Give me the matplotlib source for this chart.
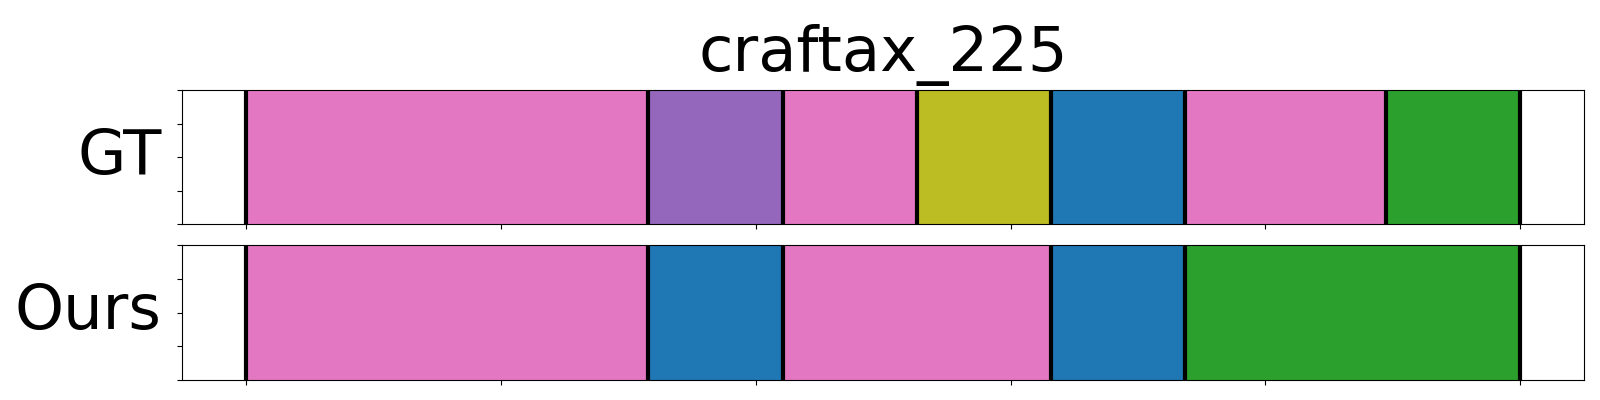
import matplotlib
matplotlib.use("Agg")
import matplotlib.pyplot as plt

n_steps = 19
title = "craftax_225"
row_labels = ["GT", "Ours"]

# segment boundaries (in steps) and colour of each segment
gt_bounds = [0, 6, 8, 10, 12, 14, 17, 19]
gt_colors = ["tab:pink", "tab:purple", "tab:pink", "tab:olive", "tab:blue", "tab:pink", "tab:green"]
ours_bounds = [0, 6, 8, 12, 14, 19]
ours_colors = ["tab:pink", "tab:blue", "tab:pink", "tab:blue", "tab:green"]


def draw_row(ax, bounds, colors, label):
    xs = [b / n_steps for b in bounds]
    for i, c in enumerate(colors):
        ax.axvspan(xs[i], xs[i + 1], ymin=0, ymax=1, color=c, lw=0)
    for x in xs:
        ax.axvline(x, color="black", lw=3)
    ax.set_xlim(-0.05, 1.05)
    ax.set_ylim(0, 1)
    ax.set_xticks([0, 0.2, 0.4, 0.6, 0.8, 1.0])
    ax.set_yticks([0, 0.25, 0.5, 0.75, 1.0])
    ax.set_xticklabels([])
    ax.set_yticklabels([])
    ax.set_ylabel(label, fontsize=45, rotation=0, ha="right", va="center", labelpad=8)


def main():
    fig = plt.figure(figsize=(16, 4), dpi=100)
    ax1 = fig.add_axes([0.114, 0.439, 0.876, 0.336])
    ax2 = fig.add_axes([0.114, 0.05, 0.876, 0.3375])
    draw_row(ax1, gt_bounds, gt_colors, row_labels[0])
    draw_row(ax2, ours_bounds, ours_colors, row_labels[1])
    ax1.set_title(title, fontsize=45, pad=14)
    fig.savefig("out.png", dpi=100)


if __name__ == "__main__":
    main()
